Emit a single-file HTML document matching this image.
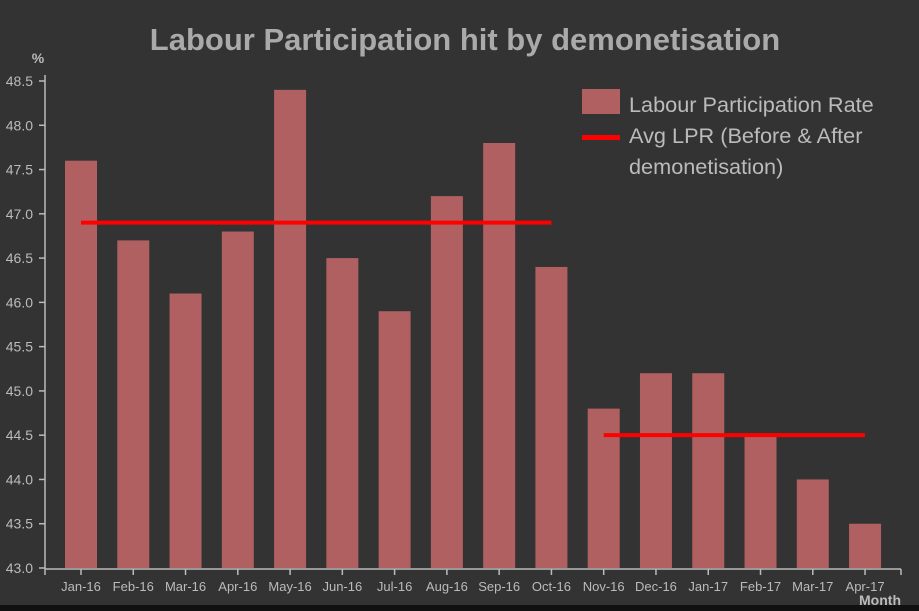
<!DOCTYPE html>
<html><head><meta charset="utf-8"><style>
html,body{margin:0;padding:0;background:#333;}
svg{display:block;font-family:"Liberation Sans",Arial,sans-serif;}
</style></head><body>
<svg id="chart" width="919" height="611" viewBox="0 0 919 611">
<rect x="0" y="0" width="919" height="611" fill="#333"/>
<rect x="0" y="605" width="919" height="6" fill="#111"/>
<text x="465" y="50" text-anchor="middle" font-size="31" font-weight="bold" fill="#aaa">Labour Participation hit by demonetisation</text>
<text x="38" y="63" text-anchor="middle" font-size="14" font-weight="bold" fill="#bbb">%</text>
<text x="901" y="605" text-anchor="end" font-size="14" font-weight="bold" fill="#bbb">Month</text>
<g id="bars"></g><g id="avgs"></g><g id="yaxis"></g><g id="xaxis"></g>
<g>
<rect x="582" y="89" width="38" height="25" fill="#b06060"/>
<text x="629" y="112" font-size="21.7" fill="#bbb">Labour Participation Rate</text>
<rect x="582" y="135" width="38" height="5" fill="#ff0000"/>
<text x="629" y="143" font-size="21.7" fill="#bbb">Avg LPR (Before &amp; After</text>
<text x="629" y="174" font-size="21.7" fill="#bbb">demonetisation)</text>
</g>
</svg>
<script>
const categories=["Jan-16","Feb-16","Mar-16","Apr-16","May-16","Jun-16","Jul-16","Aug-16","Sep-16","Oct-16","Nov-16","Dec-16","Jan-17","Feb-17","Mar-17","Apr-17"];
const lprValues=[47.6,46.7,46.1,46.8,48.4,46.5,45.9,47.2,47.8,46.4,44.8,45.2,45.2,44.5,44.0,43.5];
const avgBefore=46.9, avgAfter=44.5;
const beforeRange=[0,9], afterRange=[10,15];
const yTicks=[43.0,43.5,44.0,44.5,45.0,45.5,46.0,46.5,47.0,47.5,48.0,48.5];
const NS="http://www.w3.org/2000/svg";
const y=v=>568-(v-43)*(487/5.5);
const x=i=>81+i*52.27;
const bw=32;
function mk(p,t,a){const e=document.createElementNS(NS,t);for(const k in a)e.setAttribute(k,a[k]);p.appendChild(e);return e;}
const bars=document.getElementById('bars');
lprValues.forEach((v,i)=>{const r=mk(bars,'rect',{x:x(i)-bw/2,y:y(v),width:bw,height:568-y(v),fill:'#b06060'});

});
const avgs=document.getElementById('avgs');
[[avgBefore,beforeRange,'avg-line-before'],[avgAfter,afterRange,'avg-line-after']].forEach(([v,r,n])=>{
const l=mk(avgs,'line',{x1:x(r[0]),x2:x(r[1]),y1:y(v),y2:y(v),stroke:'#ff0000','stroke-width':4});

});
const ya=document.getElementById('yaxis');
const yl=mk(ya,'line',{x1:45,x2:45,y1:75,y2:569,stroke:'#bbb','stroke-width':1.5});


yTicks.forEach(t=>{mk(ya,'line',{x1:39,x2:45,y1:y(t),y2:y(t),stroke:'#bbb','stroke-width':1.5});
const tx=mk(ya,'text',{x:33,y:y(t)+5,'text-anchor':'end','font-size':14,fill:'#bbb'});tx.textContent=t.toFixed(1);

});
const xa=document.getElementById('xaxis');
const xl=mk(xa,'line',{x1:45,x2:901,y1:569,y2:569,stroke:'#bbb','stroke-width':1.5});


mk(xa,'line',{x1:901,x2:901,y1:569,y2:575,stroke:'#bbb','stroke-width':1.5});
mk(xa,'line',{x1:45,x2:45,y1:569,y2:575,stroke:'#bbb','stroke-width':1.5});
categories.forEach((c,i)=>{mk(xa,'line',{x1:x(i),x2:x(i),y1:569,y2:575,stroke:'#bbb','stroke-width':1.5});
const tx=mk(xa,'text',{x:x(i),y:591,'text-anchor':'middle','font-size':13,fill:'#bbb'});tx.textContent=c;

});
</script>
</body></html>
